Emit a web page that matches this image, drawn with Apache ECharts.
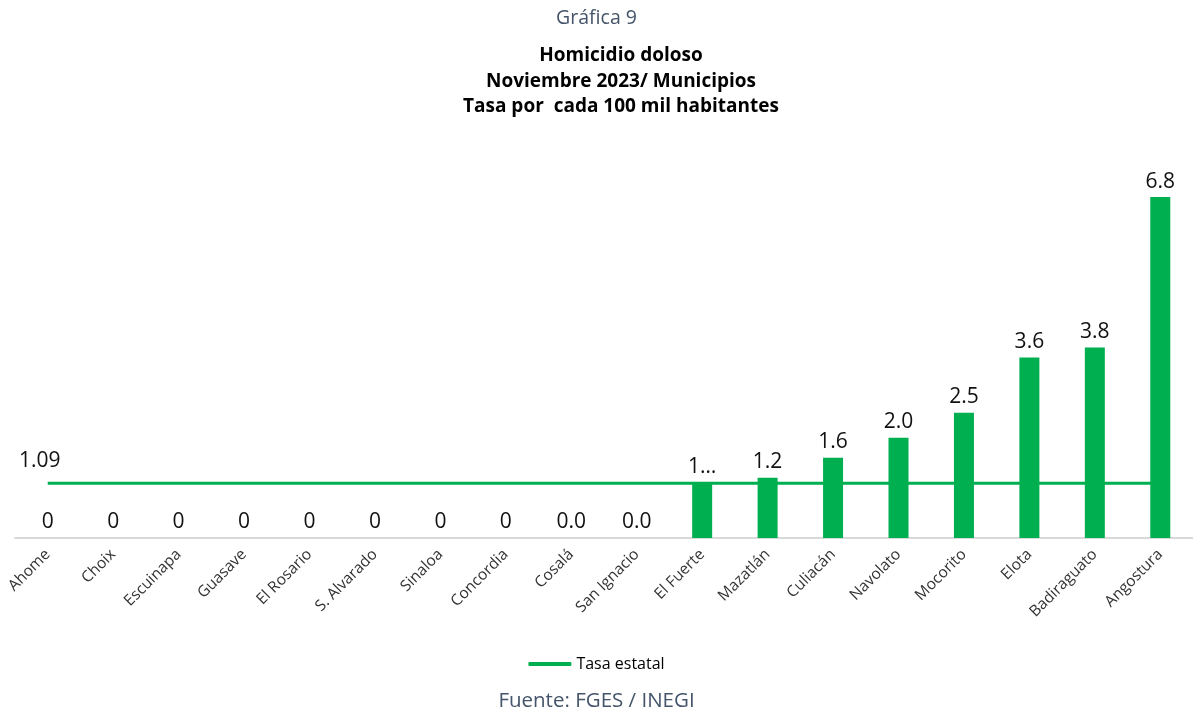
<!DOCTYPE html>
<html>
<head>
<meta charset="utf-8">
<script src="https://cdn.jsdelivr.net/npm/echarts@6/dist/echarts.min.js"></script>
<style>html,body{margin:0;padding:0;background:#fff}#c{width:1193px;height:711px}</style>
</head>
<body>
<div id="c"></div>
<script>
var categories = ["Ahome","Choix","Escuinapa","Guasave","El Rosario","S. Alvarado","Sinaloa","Concordia","Cosalá","San Ignacio","El Fuerte","Mazatlán","Culiacán","Navolato","Mocorito","Elota","Badiraguato","Angostura"];
var tasaMunicipal = [0,0,0,0,0,0,0,0,0,0,1.1,1.2,1.6,2.0,2.5,3.6,3.8,6.8];
var etiquetas = ["0","0","0","0","0","0","0","0","0.0","0.0","1…","1.2","1.6","2.0","2.5","3.6","3.8","6.8"];
var tasaEstatal = 1.09;

var lineData = categories.map(function(){ return tasaEstatal; });
var chart = echarts.init(document.getElementById('c'));
var green = '#00b050';
chart.setOption({
  animation: false,
  title: [
    {text: 'Gráfica 9', left: 'center', top: 3, padding: [5, 10, 5, 5], textStyle: {fontFamily: 'Open Sans', fontSize: 19.5, fontWeight: 'normal', color: '#44546a'}},
    {text: 'Fuente: FGES / INEGI', left: 'center', top: 686, textStyle: {fontFamily: 'Open Sans', fontSize: 20.5, fontWeight: 'normal', color: '#44546a'}}
  ],
  graphic: [
    {type: 'text', x: 621, y: 43, style: {
      text: 'Homicidio doloso\nNoviembre 2023/ Municipios\nTasa por  cada 100 mil habitantes',
      textAlign: 'center', fontFamily: 'Open Sans', fontSize: 19, fontWeight: 'bold', fill: '#000', lineHeight: 25.5}}
  ],
  legend: {
    data: [{name: 'Tasa estatal', icon: 'roundRect'}], top: 651, left: 'center', itemWidth: 43, itemHeight: 4, itemGap: 4,
    textStyle: {fontFamily: 'Open Sans', fontSize: 16, color: '#000'}
  },
  grid: {left: 15, right: -3, top: 187, bottom: 173, containLabel: false},
  xAxis: {
    type: 'category', data: categories,
    axisLine: {lineStyle: {color: '#d9d9d9', width: 2}},
    axisTick: {show: false},
    axisLabel: {rotate: 45, interval: 0, fontFamily: 'Open Sans', fontSize: 15.5, color: '#333', margin: 14}
  },
  yAxis: {type: 'value', min: 0, max: 7, show: false, splitLine: {show: false}},
  series: [
    {
      name: 'Tasa municipal', type: 'bar', data: tasaMunicipal, barWidth: 20, z: 3,
      itemStyle: {color: green},
      label: {show: true, position: 'top', distance: 5, fontFamily: 'Open Sans', fontSize: 21, color: '#111',
        formatter: function(p){ return etiquetas[p.dataIndex]; }}
    },
    {
      name: 'Tasa estatal', type: 'line', data: lineData, symbol: 'circle', symbolSize: 0, showSymbol: true, showAllSymbol: true, z: 2,
      lineStyle: {color: green, width: 3}, itemStyle: {color: green},
      label: {show: true, position: 'top', distance: 12, offset: [-8, 0], fontFamily: 'Open Sans', fontSize: 21, color: '#111',
        formatter: function(p){ return p.dataIndex === 0 ? tasaEstatal.toFixed(2) : ''; }}
    }
  ]
});
</script>
</body>
</html>
